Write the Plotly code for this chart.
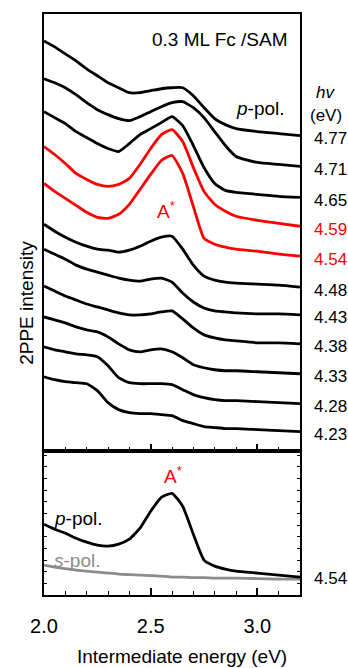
import plotly.graph_objects as go

# Intermediate energy grid (eV)
energy = [2.00, 2.05, 2.10, 2.15, 2.20, 2.25, 2.30, 2.35, 2.40, 2.45, 2.50,
          2.55, 2.60, 2.65, 2.70, 2.75, 2.80, 2.85, 2.90, 3.00, 3.10, 3.20]

# Photon energies (eV) of the stacked p-pol. spectra, top to bottom
hv_labels = ["4.77", "4.71", "4.65", "4.59", "4.54", "4.48",
             "4.43", "4.38", "4.33", "4.28", "4.23"]

# 2PPE intensity (arb. units, vertically offset) for each photon energy
i_477 = [4.12, 4.06, 3.99, 3.92, 3.84, 3.77, 3.70, 3.65, 3.60, 3.60, 3.62,
         3.64, 3.65, 3.65, 3.57, 3.45, 3.34, 3.28, 3.24, 3.21, 3.19, 3.17]
i_471 = [3.74, 3.70, 3.65, 3.58, 3.50, 3.43, 3.38, 3.34, 3.32, 3.36, 3.41,
         3.46, 3.50, 3.51, 3.45, 3.35, 3.21, 3.07, 2.96, 2.90, 2.88, 2.86]
i_465 = [3.41, 3.35, 3.29, 3.21, 3.15, 3.09, 3.04, 3.01, 3.09, 3.18, 3.24,
         3.30, 3.36, 3.27, 3.07, 2.85, 2.69, 2.62, 2.60, 2.58, 2.56, 2.55]
i_459 = [3.06, 2.98, 2.89, 2.79, 2.73, 2.68, 2.66, 2.68, 2.74, 2.88, 3.04,
         3.18, 3.23, 3.11, 2.85, 2.61, 2.48, 2.41, 2.36, 2.32, 2.29, 2.26]
i_454 = [2.69, 2.61, 2.54, 2.47, 2.40, 2.35, 2.34, 2.38, 2.48, 2.63, 2.78,
         2.92, 2.97, 2.79, 2.46, 2.14, 2.08, 2.05, 2.03, 2.01, 1.98, 1.96]
i_448 = [2.28, 2.21, 2.15, 2.10, 2.06, 2.03, 2.02, 2.00, 2.02, 2.06, 2.11,
         2.15, 2.16, 2.03, 1.87, 1.76, 1.72, 1.70, 1.69, 1.68, 1.67, 1.65]
i_443 = [2.03, 1.98, 1.93, 1.87, 1.83, 1.80, 1.77, 1.74, 1.72, 1.71, 1.73,
         1.74, 1.70, 1.59, 1.50, 1.44, 1.41, 1.40, 1.39, 1.38, 1.38, 1.37]
i_438 = [1.66, 1.61, 1.56, 1.52, 1.48, 1.45, 1.42, 1.39, 1.37, 1.37, 1.38,
         1.40, 1.41, 1.33, 1.24, 1.17, 1.14, 1.12, 1.11, 1.09, 1.09, 1.08]
i_433 = [1.35, 1.32, 1.29, 1.25, 1.22, 1.20, 1.15, 1.08, 1.02, 1.00, 1.02,
         1.03, 1.00, 0.94, 0.87, 0.84, 0.82, 0.81, 0.81, 0.80, 0.79, 0.78]
i_428 = [1.05, 1.02, 1.00, 0.98, 0.97, 0.95, 0.86, 0.74, 0.69, 0.68, 0.68,
         0.68, 0.67, 0.62, 0.57, 0.54, 0.52, 0.51, 0.51, 0.50, 0.49, 0.48]
i_423 = [0.75, 0.72, 0.70, 0.69, 0.68, 0.61, 0.49, 0.42, 0.39, 0.38, 0.38,
         0.37, 0.36, 0.31, 0.28, 0.25, 0.24, 0.23, 0.23, 0.22, 0.21, 0.20]

# Lower panel: hv = 4.54 eV, p- and s-polarised
p_pol_454 = [0.71, 0.66, 0.62, 0.57, 0.53, 0.50, 0.49, 0.51, 0.56, 0.67, 0.84,
             0.98, 1.02, 0.89, 0.61, 0.35, 0.29, 0.26, 0.24, 0.22, 0.20, 0.18]
s_pol_454 = [0.30, 0.28, 0.265, 0.25, 0.24, 0.23, 0.22, 0.21, 0.205, 0.20, 0.195,
             0.19, 0.18, 0.18, 0.175, 0.175, 0.17, 0.17, 0.17, 0.165, 0.16, 0.16]

spectra = [i_477, i_471, i_465, i_459, i_454, i_448,
           i_443, i_438, i_433, i_428, i_423]
red_set = {"4.59", "4.54"}

RED = "#ff0000"
BLACK = "#000000"
GREY = "#8c8c8c"
FONT = "Arial"

fig = go.Figure()

for lab, ys in zip(hv_labels, spectra):
    col = RED if lab in red_set else BLACK
    fig.add_trace(go.Scatter(x=energy, y=ys, mode="lines", xaxis="x2", yaxis="y2",
                             line=dict(color=col, width=2.8, shape="spline", smoothing=0.5),
                             showlegend=False, hoverinfo="skip"))

fig.add_trace(go.Scatter(x=energy, y=s_pol_454, mode="lines", xaxis="x", yaxis="y",
                         line=dict(color=GREY, width=2.8, shape="spline", smoothing=0.5),
                         showlegend=False, hoverinfo="skip"))
fig.add_trace(go.Scatter(x=energy, y=p_pol_454, mode="lines", xaxis="x", yaxis="y",
                         line=dict(color=BLACK, width=2.8, shape="spline", smoothing=0.5),
                         showlegend=False, hoverinfo="skip"))

split = 0.2479
xrange = [2.0, 3.2]

axis_common = dict(showline=True, linecolor="black", linewidth=2, mirror=True,
                   showgrid=False, zeroline=False)

annotations = []
# right-hand photon energy labels at curve ends
for lab, ys in zip(hv_labels, spectra):
    col = RED if lab in red_set else BLACK
    annotations.append(dict(x=1.047, xref="paper", y=ys[-1], yref="y2", text=lab,
                            showarrow=False, xanchor="left", yanchor="middle", yshift=-3,
                            font=dict(family=FONT, size=17, color=col)))
annotations.append(dict(x=1.047, xref="paper", y=p_pol_454[-1], yref="y", text="4.54",
                        showarrow=False, xanchor="left", yanchor="middle", yshift=-1,
                        font=dict(family=FONT, size=17, color=BLACK)))
annotations += [
    dict(x=1.10, xref="paper", y=3.60, yref="y2", text="<i>hv</i>", showarrow=False,
         xanchor="center", yanchor="middle", font=dict(family=FONT, size=17, color=BLACK)),
    dict(x=1.10, xref="paper", y=3.37, yref="y2", text="(eV)", showarrow=False,
         xanchor="center", yanchor="middle", font=dict(family=FONT, size=17, color=BLACK)),
    dict(x=3.155, xref="x2", y=4.13, yref="y2", text="0.3 ML Fc /SAM", showarrow=False,
         xanchor="right", yanchor="middle", font=dict(family=FONT, size=19, color=BLACK)),
    dict(x=3.14, xref="x2", y=3.44, yref="y2", text="<i>p</i>-pol.", showarrow=False,
         xanchor="right", yanchor="middle", font=dict(family=FONT, size=19, color=BLACK)),
    dict(x=2.52, xref="x2", y=2.42, yref="y2", text="A<sup>*</sup>", showarrow=False,
         xanchor="left", yanchor="middle", font=dict(family=FONT, size=19, color=RED)),
    dict(x=2.038, xref="x", y=0.77, yref="y", text="<i>p</i>-pol.", showarrow=False,
         xanchor="left", yanchor="middle", font=dict(family=FONT, size=19, color=BLACK)),
    dict(x=2.038, xref="x", y=0.35, yref="y", text="<i>s</i>-pol.", showarrow=False,
         xanchor="left", yanchor="middle", font=dict(family=FONT, size=19, color=GREY)),
    dict(x=2.555, xref="x", y=1.20, yref="y", text="A<sup>*</sup>", showarrow=False,
         xanchor="left", yanchor="middle", font=dict(family=FONT, size=19, color=RED)),
    dict(x=-0.066, xref="paper", y=0.503, yref="paper", text="2PPE intensity",
         showarrow=False, textangle=-90, xanchor="center", yanchor="middle",
         font=dict(family=FONT, size=19, color=BLACK)),
    dict(x=0.54, xref="paper", y=-0.106, yref="paper", text="Intermediate energy (eV)",
         showarrow=False, xanchor="center", yanchor="middle",
         font=dict(family=FONT, size=19, color=BLACK)),
]

fig.update_layout(
    width=348, height=668,
    margin=dict(l=44, r=48, t=12, b=73),
    paper_bgcolor="white", plot_bgcolor="white",
    font=dict(family=FONT, color="black"),
    xaxis=dict(**axis_common, range=xrange, anchor="y", domain=[0, 1],
               ticks="inside", ticklen=7, tickwidth=1.5, tickcolor="black",
               tick0=2.0, dtick=0.5, tickformat=".1f",
               tickfont=dict(family=FONT, size=20, color="black"),
               ticklabelstandoff=12,
               minor=dict(dtick=0.1, ticks="inside", ticklen=4, tickwidth=1.2,
                          tickcolor="black")),
    yaxis=dict(**{**axis_common, "mirror": "ticks"}, range=[0, 1.445], anchor="x",
               domain=[0, split], showticklabels=False,
               ticks="inside", ticklen=3, tickwidth=1, tickcolor="black",
               tick0=0, dtick=0.117),
    xaxis2=dict(**axis_common, range=xrange, anchor="y2", domain=[0, 1],
                matches="x", showticklabels=False,
                ticks="inside", ticklen=7, tickwidth=1.5, tickcolor="black",
                tick0=2.0, dtick=0.5,
                minor=dict(dtick=0.1, ticks="inside", ticklen=4, tickwidth=1.2,
                           tickcolor="black")),
    yaxis2=dict(**axis_common, range=[0.005, 4.39], anchor="x2",
                domain=[split, 1], showticklabels=False, ticks=""),
    annotations=annotations,
)

fig.write_html("out.html")
